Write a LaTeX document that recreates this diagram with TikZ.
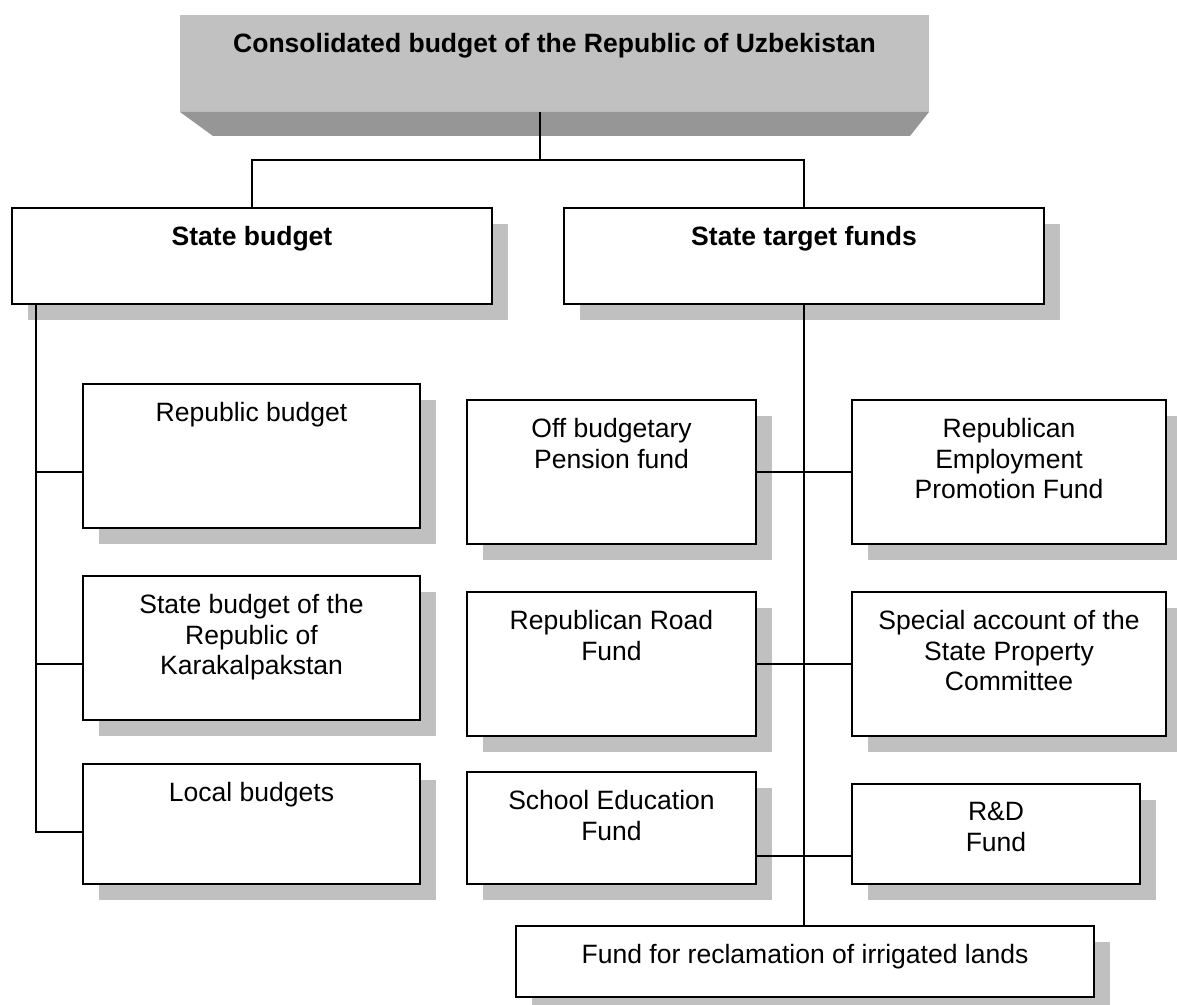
\documentclass[tikz,border=0pt]{standalone}
\usepackage{fontspec}
\setmainfont{Liberation Sans}
\usetikzlibrary{shadows}

\definecolor{facegray}{RGB}{193,193,193}
\definecolor{bevelgray}{RGB}{150,150,150}
\definecolor{shadowgray}{RGB}{192,192,192}

\tikzset{every picture/.style={line width=1.4pt}}
\tikzset{
  fundbox/.style={draw, fill=white, outer sep=0pt, inner sep=0pt, anchor=north west, line width=1.5pt,
    general shadow={fill=shadowgray, shadow xshift=12pt, shadow yshift=-12pt}},
  boxtxt/.style={anchor=north, inner sep=0pt, align=center, font=\fontsize{19.9}{22.9}\selectfont},
  link/.style={line width=1.3pt}
}

\begin{document}
\begin{tikzpicture}[x=0.75pt,y=0.75pt,yscale=-1,xscale=1]
\useasboundingbox (0,0) rectangle (1177,1005);

%Shape: top face with bevel
\node [fill=facegray, outer sep=0pt, inner sep=0pt, anchor=north west, minimum width=561.75pt, minimum height=72.75pt] (top) at (180,15) {};
\fill [bevelgray] (top.south west) -- (top.south east) -- ++(-19,24) -- ([shift={(33,24)}]top.south west) -- cycle;

%Shape: Rectangles
\node [fundbox, minimum width=360pt, minimum height=72pt] (sb) at (12,208) {};
\node [fundbox, minimum width=360pt, minimum height=72pt] (stf) at (564,208) {};
\node [fundbox, minimum width=252.75pt, minimum height=108pt] (rep) at (83,384) {};
\node [fundbox, minimum width=252.75pt, minimum height=108pt] (kar) at (83,576) {};
\node [fundbox, minimum width=252.75pt, minimum height=90pt] (loc) at (83,764) {};
\node [fundbox, minimum width=216.75pt, minimum height=108pt] (pen) at (467,400) {};
\node [fundbox, minimum width=216.75pt, minimum height=108pt] (road) at (467,592) {};
\node [fundbox, minimum width=216.75pt, minimum height=84pt] (sch) at (467,772) {};
\node [fundbox, minimum width=235.5pt, minimum height=108pt] (emp) at (852,400) {};
\node [fundbox, minimum width=235.5pt, minimum height=108pt] (spec) at (852,592) {};
\node [fundbox, minimum width=216pt, minimum height=75pt] (rd) at (852,784) {};
\node [fundbox, minimum width=433.5pt, minimum height=53.25pt] (fr) at (516,926) {};

%Straight Lines
\coordinate (j0) at (540,160);
\draw [link] (top.south -| j0) -- (j0);
\draw [link] (sb.north) |- (j0) -| (stf.north);

\coordinate (t1) at (36,472);
\coordinate (t2) at (36,664);
\coordinate (t3) at (36,832);
\draw [link] (sb.south -| t3) -- (t3) -- (loc.west |- t3);
\draw [link] (t1) -- (rep.west |- t1);
\draw [link] (t2) -- (kar.west |- t2);

\coordinate (t4) at (804,856);
\draw [link] (stf.south) -- (stf.south |- fr.north);
\draw [link] (pen.east) -- (emp.west);
\draw [link] (road.east) -- (spec.west);
\draw [link] (sch.east |- t4) -- (rd.west |- t4);

% Text Node
\node [boxtxt, font=\fontsize{19.9}{22.9}\selectfont\bfseries] (topT) at ([shift={(0,17.5)}]top.north) {Consolidated budget of the Republic of Uzbekistan};
% Text Node
\node [boxtxt, font=\fontsize{19.9}{22.9}\selectfont\bfseries] (sbT) at ([shift={(0,17.5)}]sb.north) {State budget};
% Text Node
\node [boxtxt, font=\fontsize{19.9}{22.9}\selectfont\bfseries] (stfT) at ([shift={(0,17.5)}]stf.north) {State target funds};
% Text Node
\node [boxtxt] (repT) at ([shift={(0,17.5)}]rep.north) {Republic budget};
% Text Node
\node [boxtxt] (karT) at ([shift={(0,17.5)}]kar.north) {State budget of the\\Republic of\\Karakalpakstan};
% Text Node
\node [boxtxt] (locT) at ([shift={(0,17.5)}]loc.north) {Local budgets};
% Text Node
\node [boxtxt] (penT) at ([shift={(0,17.5)}]pen.north) {Off budgetary\\Pension fund};
% Text Node
\node [boxtxt] (roadT) at ([shift={(0,17.5)}]road.north) {Republican Road\\Fund};
% Text Node
\node [boxtxt] (schT) at ([shift={(0,17.5)}]sch.north) {School Education\\Fund};
% Text Node
\node [boxtxt] (empT) at ([shift={(0,17.5)}]emp.north) {Republican\\Employment\\Promotion Fund};
% Text Node
\node [boxtxt] (specT) at ([shift={(0,17.5)}]spec.north) {Special account of the\\State Property\\Committee};
% Text Node
\node [boxtxt] (rdT) at ([shift={(0,17.5)}]rd.north) {R\&D\\Fund};
% Text Node
\node [boxtxt] (frT) at ([shift={(0,17.5)}]fr.north) {Fund for reclamation of irrigated lands};
\end{tikzpicture}
\end{document}
